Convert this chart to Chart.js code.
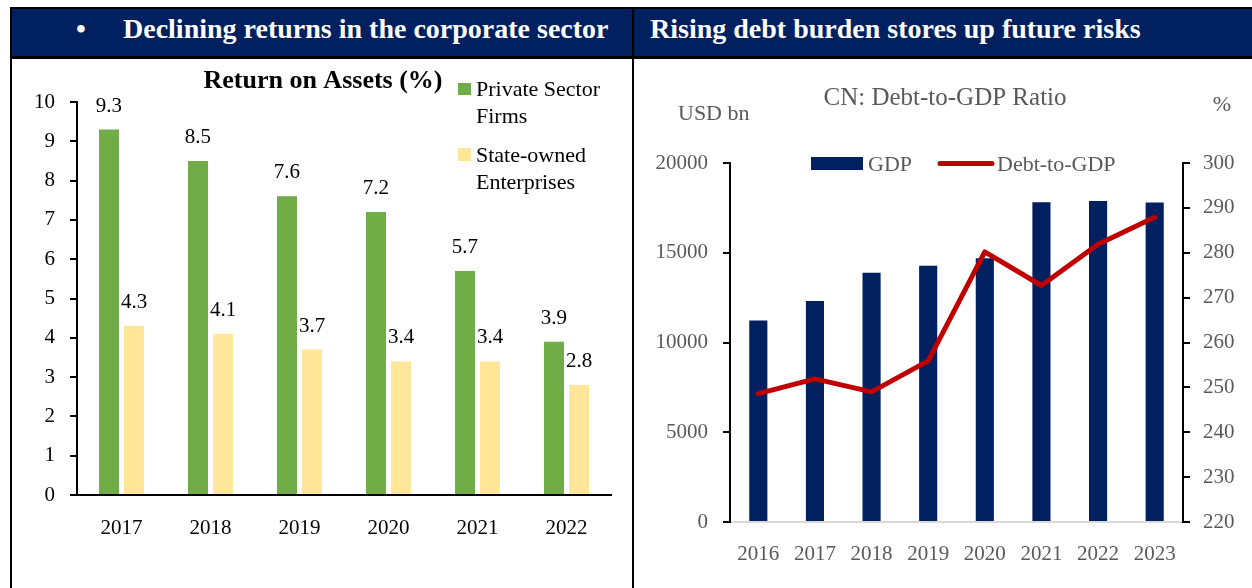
<!DOCTYPE html>
<html>
<head>
  <meta charset="UTF-8" />
  <title>Corporate returns and debt burden</title>
  <script src="https://cdn.jsdelivr.net/npm/chart.js"></script>
  <style>
    body { margin: 0; background: #fff; width: 1252px; height: 588px; overflow: hidden; position: relative; }
    .serif { font-family: "Liberation Serif", "Times New Roman", serif; }
    #header { position: absolute; left: 10px; top: 7px; width: 1242px; height: 47px;
              background: #002060; border-top: 2px solid #000; border-bottom: 3px solid #000; }
    .head-text { position: absolute; top: 4px; color: #fff; font-weight: bold; font-size: 28px; white-space: nowrap; }
    #leftBorder { position: absolute; left: 10px; top: 7px; width: 2px; height: 581px; background: #000; }
    #divider { position: absolute; left: 632px; top: 7px; width: 2px; height: 581px; background: #000; }
    canvas { position: absolute; }
  </style>
</head>
<body class="serif">

<div id="header">
  <span class="head-text" style="left: 66px;">&bull;</span>
  <span class="head-text" style="left: 113px;">Declining returns in the corporate sector</span>
  <span class="head-text" style="left: 640px;">Rising debt burden stores up future risks</span>
</div>
<div id="leftBorder"></div>
<div id="divider"></div>

<canvas id="roaChart" width="620" height="531" style="left: 12px; top: 57px;"></canvas>
<canvas id="debtChart" width="618" height="531" style="left: 634px; top: 57px;"></canvas>

<script>
  // 1) Data
  const roaYears = ['2017', '2018', '2019', '2020', '2021', '2022'];
  const privateRoa = [9.3, 8.5, 7.6, 7.2, 5.7, 3.9];
  const soeRoa = [4.3, 4.1, 3.7, 3.4, 3.4, 2.8];

  const gdpYears = ['2016', '2017', '2018', '2019', '2020', '2021', '2022', '2023'];
  const gdpUsdBn = [11230, 12310, 13890, 14280, 14690, 17820, 17880, 17800];
  const debtToGdp = [248.6, 251.9, 249.0, 255.9, 280.2, 272.7, 281.9, 287.9];

  const FONT = '"Liberation Serif", "Times New Roman", serif';
  const GREY = '#595959';

  // 2) Small plugin: titles, hand-placed legends and bar value labels
  const panelText = {
    id: 'panelText',
    afterDatasetsDraw(chart, args, opts) {
      const c = chart.ctx;
      c.save();
      (opts.texts || []).forEach(t => {
        c.font = (t.bold ? 'bold ' : '') + t.size + 'px ' + FONT;
        c.fillStyle = t.color || '#000';
        c.textAlign = t.align || 'left';
        c.textBaseline = 'alphabetic';
        c.fillText(t.text, t.x, t.y);
      });
      (opts.legend || []).forEach(l => {
        const ds = chart.data.datasets[l.dataset];
        if (l.kind === 'line') {
          c.strokeStyle = ds.borderColor;
          c.lineWidth = ds.borderWidth;
          c.lineCap = 'round';
          c.beginPath();
          c.moveTo(l.x, l.y + l.h / 2);
          c.lineTo(l.x + l.w, l.y + l.h / 2);
          c.stroke();
        } else {
          c.fillStyle = ds.backgroundColor;
          c.fillRect(l.x, l.y, l.w, l.h);
        }
        c.font = l.size + 'px ' + FONT;
        c.fillStyle = l.color || '#000';
        c.textAlign = 'left';
        [].concat(ds.label).forEach((line, i) => {
          c.fillText(line, l.tx, l.ty + i * 27);
        });
      });
      if (opts.valueLabels) {
        c.font = '21px ' + FONT;
        c.fillStyle = '#000';
        c.textAlign = 'center';
        chart.data.datasets.forEach((ds, di) => {
          chart.getDatasetMeta(di).data.forEach((bar, i) => {
            c.fillText(ds.data[i].toFixed(1), bar.x, bar.y - 18);
          });
        });
      }
      c.restore();
    }
  };

  // 3) Return on assets chart
  new Chart(document.getElementById('roaChart'), {
    type: 'bar',
    data: {
      labels: roaYears,
      datasets: [{
        label: ['Private Sector', 'Firms'],
        data: privateRoa,
        backgroundColor: '#70AD47',
        barPercentage: 0.8,
        categoryPercentage: 0.562
      }, {
        label: ['State-owned', 'Enterprises'],
        data: soeRoa,
        backgroundColor: '#FFE699',
        barPercentage: 0.8,
        categoryPercentage: 0.562
      }]
    },
    options: {
      responsive: false,
      animation: false,
      layout: { padding: { top: 45, right: 21, left: 0, bottom: 0 } },
      plugins: {
        legend: { display: false },
        tooltip: { enabled: false },
        panelText: {
          valueLabels: true,
          texts: [{ text: 'Return on Assets (%)', x: 311, y: 31, size: 26, bold: true, align: 'center' }],
          legend: [
            { dataset: 0, x: 446, y: 26, w: 13, h: 12, tx: 464, ty: 39, size: 22 },
            { dataset: 1, x: 446, y: 91, w: 13, h: 13, tx: 464, ty: 105, size: 22 }
          ]
        }
      },
      scales: {
        x: {
          grid: { display: false },
          border: { display: true, color: '#000', width: 2 },
          ticks: { color: '#000', font: { family: FONT, size: 21 }, padding: 13 },
          afterFit(s) { s.height = 93; }
        },
        y: {
          min: 0,
          max: 10,
          ticks: { stepSize: 1, color: '#000', font: { family: FONT, size: 21 }, padding: 15 },
          grid: { drawOnChartArea: false, drawTicks: true, tickLength: 7, color: '#000', lineWidth: 2 },
          border: { display: true, color: '#000', width: 2 },
          afterFit(s) { s.width = 65; }
        }
      }
    },
    plugins: [panelText]
  });

  // 4) GDP and debt-to-GDP chart
  new Chart(document.getElementById('debtChart'), {
    type: 'bar',
    data: {
      labels: gdpYears,
      datasets: [{
        type: 'bar',
        label: 'GDP',
        data: gdpUsdBn,
        backgroundColor: '#002060',
        yAxisID: 'y',
        barPercentage: 1,
        categoryPercentage: 0.32,
        order: 1
      }, {
        type: 'line',
        label: 'Debt-to-GDP',
        data: debtToGdp,
        yAxisID: 'y1',
        borderColor: '#C00000',
        borderWidth: 5,
        borderCapStyle: 'round',
        borderJoinStyle: 'round',
        pointRadius: 0,
        tension: 0,
        order: 0
      }]
    },
    options: {
      responsive: false,
      animation: false,
      layout: { padding: { top: 106, right: 0, left: 0, bottom: 0 } },
      plugins: {
        legend: { display: false },
        tooltip: { enabled: false },
        panelText: {
          texts: [
            { text: 'CN: Debt-to-GDP Ratio', x: 311, y: 48, size: 25, color: GREY, align: 'center' },
            { text: 'USD bn', x: 44, y: 63, size: 22, color: GREY },
            { text: '%', x: 588, y: 54, size: 22, color: GREY, align: 'center' }
          ],
          legend: [
            { dataset: 0, x: 177, y: 100, w: 52, h: 13, tx: 234, ty: 114, size: 22, color: GREY },
            { dataset: 1, kind: 'line', x: 306, y: 100, w: 52, h: 13, tx: 363, ty: 114, size: 22, color: GREY }
          ]
        }
      },
      scales: {
        x: {
          grid: { display: false },
          border: { display: true, color: '#D9D9D9', width: 2 },
          ticks: { color: GREY, font: { family: FONT, size: 21 }, padding: 12 },
          afterFit(s) { s.height = 66; }
        },
        y: {
          position: 'left',
          min: 0,
          max: 20000,
          ticks: {
            stepSize: 5000, color: GREY, font: { family: FONT, size: 21 }, padding: 15,
            callback: v => String(v)
          },
          grid: { drawOnChartArea: false, drawTicks: true, tickLength: 7, color: '#000', lineWidth: 2 },
          border: { display: true, color: '#000', width: 2 },
          afterFit(s) { s.width = 96; }
        },
        y1: {
          position: 'right',
          min: 220,
          max: 300,
          ticks: { stepSize: 10, color: GREY, font: { family: FONT, size: 21 }, padding: 13 },
          grid: { drawOnChartArea: false, drawTicks: true, tickLength: 7, color: '#000', lineWidth: 2 },
          border: { display: true, color: '#000', width: 2 },
          afterFit(s) { s.width = 69; }
        }
      }
    },
    plugins: [panelText]
  });
</script>

</body>
</html>
